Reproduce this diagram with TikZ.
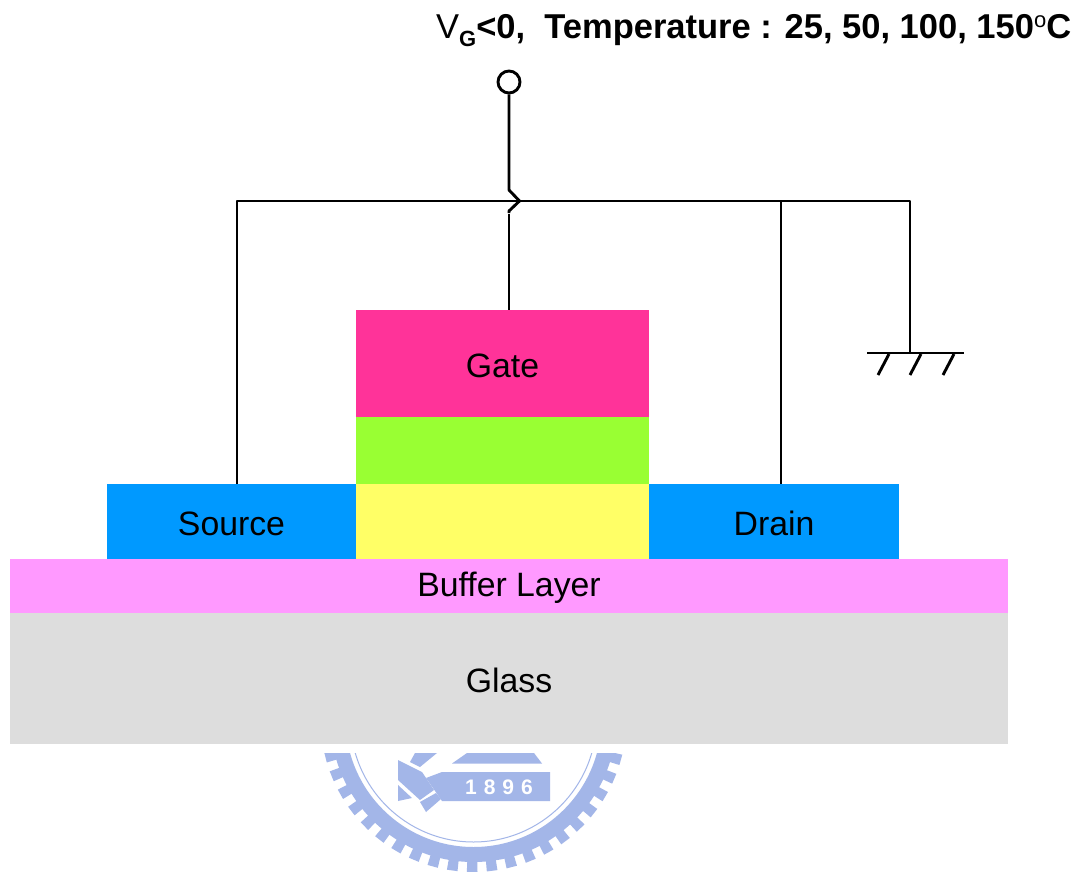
\documentclass[tikz,border=0pt]{standalone}
\usepackage{fontspec}
\setmainfont{Liberation Sans}
\usetikzlibrary{calc}
\definecolor{gatecol}{HTML}{FF3399}
\definecolor{oxidecol}{HTML}{99FF33}
\definecolor{channelcol}{HTML}{FFFF66}
\definecolor{sdcol}{HTML}{0099FF}
\definecolor{buffercol}{HTML}{FF99FF}
\definecolor{glasscol}{HTML}{DDDDDD}
\definecolor{sealcol}{HTML}{A3B6E8}
\tikzset{
  layer/.style={inner sep=0pt,outer sep=0pt,font=\fontsize{33.8}{40}\selectfont,text=black},
  wire/.style={draw=black,line width=2.9pt,line join=round},
  titletext/.style={inner sep=0pt,anchor=base west,font=\bfseries\fontsize{34.5}{40}\selectfont},
  terminal/.style={circle,draw=black,line width=2.9pt,fill=white,minimum size=22pt,inner sep=0pt},
  sealfill/.style={fill=sealcol,draw=none}
}
\newcommand{\layerbox}[7]{% name, x0, y0, x1, y1, colour, text
  \path[fill=#6] (#2,#3) rectangle (#4,#5);
  \node[layer] (#1) at ({(#2+#4)/2},{(#3+#5)/2+2}) {#7};
}
\begin{document}
\begin{tikzpicture}[x=1pt,y=-1pt]
\useasboundingbox (0,0) rectangle (1084,872);
\path[fill=white] (0,0) rectangle (1084,872);

% seal watermark
\begin{scope}
  \clip (300,753) rectangle (650,872);
  \path[sealfill,even odd rule] (473.5,719) circle[radius=143pt] (473.5,719) circle[radius=128pt];
  \draw[sealcol,line width=1pt] (473.5,719) circle[radius=123pt];
  \foreach \a in {6,13.5,...,176}{
    \path[fill=sealcol] ($(473.5,719)+(-\a:141pt)$) -- ($(473.5,719)+(-\a:153pt)$) -- ($(473.5,719)+(-\a-4:153pt)$) -- ($(473.5,719)+(-\a-4:141pt)$) -- cycle;
  }
  \path[sealfill] (452,763.5) -- (542,763.5) -- (534,753) -- (467,753) -- cycle;
  \path[sealfill] (442,772) -- (550,772) -- (550,801) -- (442,801) -- (426,778) -- cycle;
  \path[sealfill] (398,760) -- (422,772) -- (434,790) -- (420,800) -- (398,780) -- cycle;
  \path[sealfill] (415,753) -- (437,753) -- (420,767) -- (410,762) -- cycle;
  \path[sealfill] (398,785) -- (412,798) -- (398,801) -- cycle;
  \path[sealfill] (420,802) -- (436,793) -- (441,799) -- (426,812) -- cycle;
\end{scope}
\node[inner sep=0pt,text=white,font=\bfseries\fontsize{21}{24}\selectfont] (year) at (499,787) {1\,\,8\,\,9\,\,6};

% layers
\layerbox{glass}{10}{613}{1008}{744}{glasscol}{Glass}
\layerbox{buffer}{10}{559}{1008}{613}{buffercol}{Buffer Layer}
\layerbox{source}{107}{484}{356}{559}{sdcol}{Source}
\layerbox{drain}{649}{484}{899}{559}{sdcol}{Drain}
\layerbox{channel}{356}{484}{649}{559}{channelcol}{}
\layerbox{oxide}{356}{417}{649}{484}{oxidecol}{}
\layerbox{gate}{356}{310}{649}{417}{gatecol}{Gate}

% connection points
\coordinate (sourcetop) at (237,484);
\coordinate (draintop) at (781,484);
\coordinate (gatetop) at (509,310);
\coordinate (busl) at (237,201);
\coordinate (busd) at (781,201);
\coordinate (busr) at (910,201);
\coordinate (gndtop) at (910,353);
\coordinate (gndl) at (867,353);
\coordinate (gndr) at (964,353);

% wires
\node[terminal] (vg) at (509,82) {};
\draw[wire] (sourcetop) -- (busl) -- (busr) -- (gndtop);
\draw[wire] (draintop) -- (busd);
\draw[wire] (vg) -- (509,190) -- (519.5,201) -- (509,211) -- (509,213);
\draw[wire] (509,214) -- (gatetop);
\draw[wire] (gndl) -- (gndr);
\draw[wire] (889,354) -- (878,375);
\draw[wire] (921,354) -- (910,375);
\draw[wire] (954,354) -- (943,375);

% title
\node[titletext] (title) at (436,39) {\mdseries V\raisebox{-8pt}{\bfseries\fontsize{22}{24}\selectfont G}\bfseries <0,\ \ Temperature : 25, 50, 100, 150\raisebox{11pt}{\mdseries\fontsize{22}{24}\selectfont o}C};
\end{tikzpicture}
\end{document}
